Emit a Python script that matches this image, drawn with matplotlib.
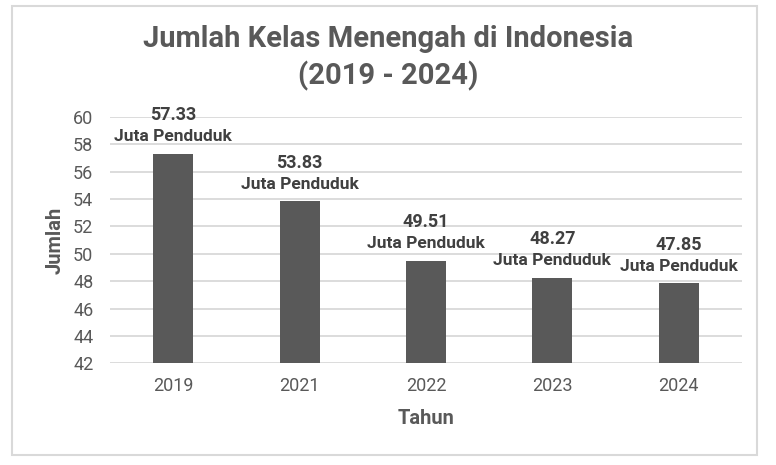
import matplotlib.pyplot as plt
from matplotlib.patches import Rectangle

years = ['2019', '2021', '2022', '2023', '2024']
values = [57.33, 53.83, 49.51, 48.27, 47.85]
yticks = [42, 44, 46, 48, 50, 52, 54, 56, 58, 60]

plt.rcParams['font.family'] = ['Roboto', 'DejaVu Sans']

fig = plt.figure(figsize=(7.76, 4.65), dpi=100)
ax = fig.add_axes([0.1418, 0.2187, 0.8142, 0.5297])

# frame around the whole chart
fig.patches.append(Rectangle((12 / 776, 1 - 455 / 465), 745 / 776, 449 / 465,
                             transform=fig.transFigure, fill=False,
                             edgecolor='#d9d9d9', linewidth=1.5))

x = range(len(years))
ax.bar(x, values, width=0.316, color='#595959', zorder=3)

for i, v in enumerate(values):
    ax.annotate('Juta Penduduk', (i, v), xytext=(0, 7), textcoords='offset points',
                ha='center', va='bottom', fontsize=12.5, fontweight='bold', color='#404040')
    ax.annotate('%.2f' % v, (i, v), xytext=(0, 21), textcoords='offset points',
                ha='center', va='bottom', fontsize=13, fontweight='bold', color='#404040')

ax.set_ylim(42, 60)
ax.set_xlim(-0.5, len(years) - 0.5)
ax.set_yticks(yticks)
ax.set_xticks(list(x))
ax.set_xticklabels(years)
ax.tick_params(length=0, labelsize=13, labelcolor='#595959')
ax.tick_params(axis='y', pad=12)
ax.tick_params(axis='x', pad=10)
ax.grid(axis='y', color='#d9d9d9', linewidth=1.3, zorder=0)
for s in ax.spines.values():
    s.set_visible(False)

ax.set_xlabel('Tahun', fontsize=14.5, fontweight='bold', color='#595959', labelpad=10)
ax.set_ylabel('Jumlah', fontsize=14.5, fontweight='bold', color='#595959', labelpad=6)

fig.text(0.5, 1 - 58 / 465, 'Jumlah Kelas Menengah di Indonesia\n(2019 - 2024)',
         ha='center', va='center', fontsize=21, fontweight='bold', color='#595959',
         linespacing=1.3)

plt.savefig('out.png')
